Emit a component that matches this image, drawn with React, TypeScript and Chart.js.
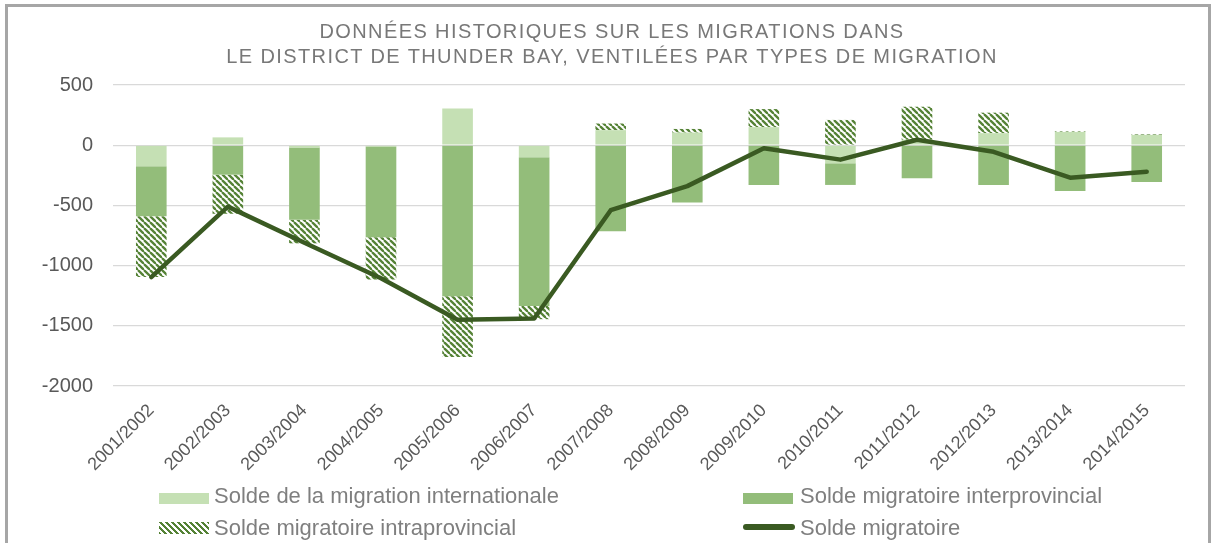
import { useEffect, useRef } from 'react';
import { Chart, registerables } from 'chart.js';

Chart.register(...registerables);

const categories = [
  '2001/2002', '2002/2003', '2003/2004', '2004/2005', '2005/2006', '2006/2007', '2007/2008',
  '2008/2009', '2009/2010', '2010/2011', '2011/2012', '2012/2013', '2013/2014', '2014/2015',
];
const international = [-175, 65, -20, -10, 305, -100, 125, 105, 150, -150, 45, 100, 110, 85];
const interprovincial = [-415, -245, -600, -755, -1255, -1235, -715, -475, -330, -180, -275, -330, -380, -305];
const intraprovincial = [-505, -325, -195, -350, -505, -110, 55, 30, 150, 210, 275, 170, 5, 5];
const total = [-1095, -510, -810, -1105, -1450, -1440, -540, -340, -25, -120, 45, -55, -270, -220];

const titleLines = [
  'DONNÉES HISTORIQUES SUR LES MIGRATIONS DANS',
  'LE DISTRICT DE THUNDER BAY, VENTILÉES PAR TYPES DE MIGRATION',
];
const seriesNames = [
  'Solde de la migration internationale',
  'Solde migratoire interprovincial',
  'Solde migratoire intraprovincial',
  'Solde migratoire',
];

const C_INTL = '#c5e0b4';
const C_INTER = '#93bd7a';
const C_INTRA = '#548235';
const C_LINE = '#3a5a22';
const FONT = "'Liberation Sans', Arial, sans-serif";

function makeHatch(ctx: CanvasRenderingContext2D) {
  const s = 6;
  const c = document.createElement('canvas');
  c.width = s;
  c.height = s;
  const g = c.getContext('2d')!;
  g.fillStyle = '#ffffff';
  g.fillRect(0, 0, s, s);
  g.strokeStyle = C_INTRA;
  g.lineWidth = 2.3;
  for (const k of [-s, 0, s]) {
    g.beginPath();
    g.moveTo(k, 0);
    g.lineTo(k + s, s);
    g.stroke();
  }
  return ctx.createPattern(c, 'repeat')!;
}

export default function App() {
  const ref = useRef<HTMLCanvasElement>(null);

  useEffect(() => {
    const ctx = ref.current!.getContext('2d')!;
    const hatch = makeHatch(ctx);
    const chart = new Chart(ctx, {
      type: 'bar',
      data: {
        labels: categories,
        datasets: [
          {
            type: 'line',
            label: seriesNames[3],
            data: total,
            borderColor: C_LINE,
            backgroundColor: C_LINE,
            borderWidth: 4.5,
            pointRadius: 0,
            pointHoverRadius: 0,
            fill: false,
            tension: 0,
            order: 0,
            stack: 'line',
            borderCapStyle: 'round',
            borderJoinStyle: 'round',
          } as any,
          {
            label: seriesNames[0],
            data: international,
            backgroundColor: C_INTL,
            order: 1,
            stack: 'bars',
            categoryPercentage: 0.4,
            barPercentage: 1,
          },
          {
            label: seriesNames[1],
            data: interprovincial,
            backgroundColor: C_INTER,
            order: 1,
            stack: 'bars',
            categoryPercentage: 0.4,
            barPercentage: 1,
          },
          {
            label: seriesNames[2],
            data: intraprovincial,
            backgroundColor: hatch,
            order: 1,
            stack: 'bars',
            categoryPercentage: 0.4,
            barPercentage: 1,
          },
        ],
      },
      options: {
        animation: false,
        responsive: false,
        devicePixelRatio: 1,
        layout: { padding: { left: 10, right: 30, top: 85, bottom: 57 } },
        plugins: {
          legend: { display: false },
          title: { display: false },
          tooltip: { enabled: false },
        },
        scales: {
          x: {
            stacked: true,
            grid: { display: false },
            border: { display: false },
            ticks: {
              autoSkip: false,
              maxRotation: 45,
              minRotation: 45,
              color: '#595959',
              font: { family: FONT, size: 18 },
              padding: 6,
            },
            afterFit: (s: any) => {
              s.height = 100;
            },
          },
          y: {
            stacked: true,
            min: -2000,
            max: 500,
            ticks: {
              stepSize: 500,
              color: '#595959',
              font: { family: FONT, size: 20 },
              padding: 20,
              callback: (v: any) => String(v),
            },
            grid: { color: '#d9d9d9', lineWidth: 1.3, drawTicks: false },
            border: { display: false },
            afterFit: (s: any) => {
              s.width = 103;
            },
          },
        },
      },
    });
    return () => chart.destroy();
  }, []);

  const legendText: React.CSSProperties = {
    position: 'absolute',
    fontFamily: FONT,
    fontSize: 22,
    lineHeight: '22px',
    color: '#7f7f7f',
    whiteSpace: 'nowrap',
  };

  return (
    <div
      style={{
        position: 'fixed',
        left: 0,
        top: 0,
        width: 1215,
        height: 543,
        background: '#ffffff',
        overflow: 'hidden',
      }}
    >
      <div
        style={{
          position: 'absolute',
          left: 5,
          top: 4,
          width: 1206,
          height: 600,
          boxSizing: 'border-box',
          border: '3px solid #a6a6a6',
        }}
      />
      <canvas ref={ref} width={1215} height={543} style={{ position: 'absolute', left: 0, top: 0 }} />
      <div
        style={{
          position: 'absolute',
          left: 0,
          top: 19,
          width: 1224,
          textAlign: 'center',
          fontFamily: FONT,
          fontSize: 20,
          lineHeight: '25px',
          letterSpacing: '1.4px',
          color: '#787878',
        }}
      >
        <div>{titleLines[0]}</div>
        <div>{titleLines[1]}</div>
      </div>

      <div style={{ position: 'absolute', left: 159, top: 493, width: 50, height: 11, background: C_INTL }} />
      <div style={{ ...legendText, left: 214, top: 485 }}>{seriesNames[0]}</div>

      <div style={{ position: 'absolute', left: 743, top: 493, width: 50, height: 11, background: C_INTER }} />
      <div style={{ ...legendText, left: 800, top: 485 }}>{seriesNames[1]}</div>

      <div
        style={{
          position: 'absolute',
          left: 159,
          top: 522,
          width: 50,
          height: 12,
          background: `repeating-linear-gradient(45deg, ${C_INTRA} 0px, ${C_INTRA} 2.1px, #ffffff 2.1px, #ffffff 4.24px)`,
        }}
      />
      <div style={{ ...legendText, left: 214, top: 517 }}>{seriesNames[2]}</div>

      <div
        style={{
          position: 'absolute',
          left: 743,
          top: 524,
          width: 52,
          height: 6,
          borderRadius: 3,
          background: C_LINE,
        }}
      />
      <div style={{ ...legendText, left: 800, top: 517 }}>{seriesNames[3]}</div>
    </div>
  );
}
